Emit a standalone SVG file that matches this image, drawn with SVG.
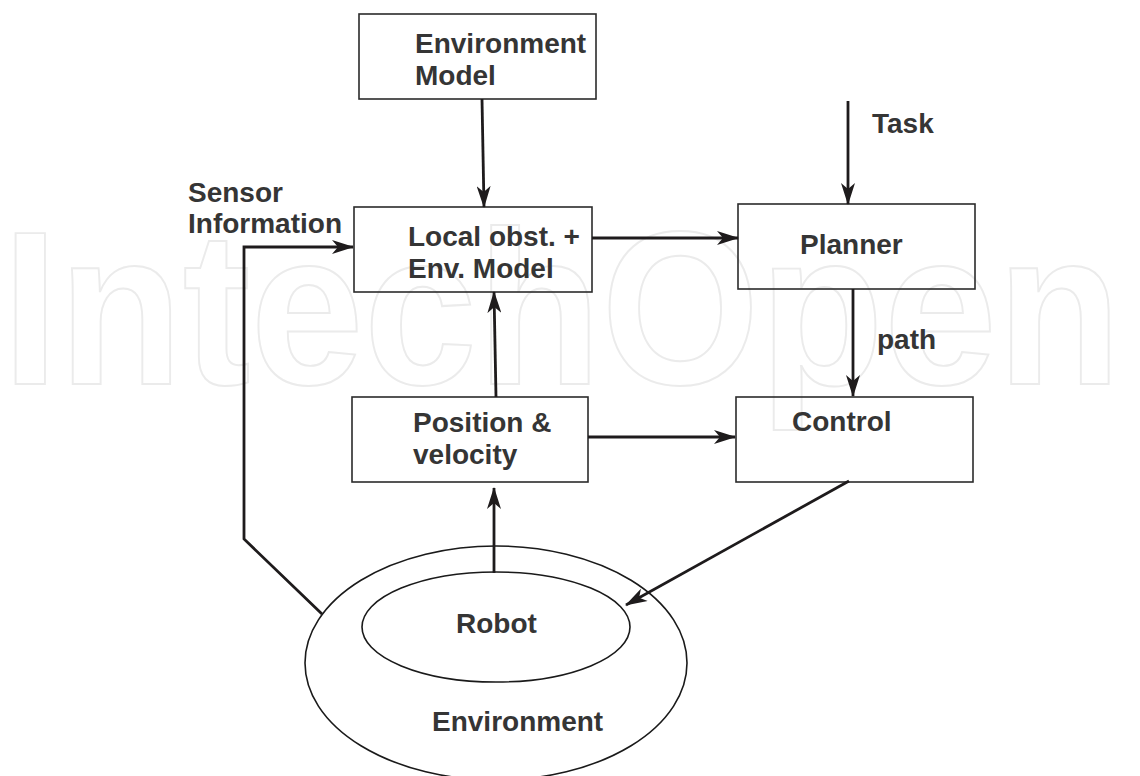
<svg xmlns="http://www.w3.org/2000/svg" width="1140" height="776" viewBox="0 0 1140 776">
<style>
.box{fill:none;stroke:#2b2b2b;stroke-width:1.6}
.ell{fill:none;stroke:#1a1a1a;stroke-width:1.6}
.lbl{font-family:"Liberation Sans",Arial,sans-serif;font-weight:bold;font-size:28px;fill:#353535}
.con{fill:none;stroke:#1e1b1c;stroke-width:2.8}
.wm{font-family:"Liberation Sans",Arial,sans-serif;font-weight:bold;font-size:220px;fill:none;stroke:#ebebeb;stroke-width:2}
</style>
<defs>
<marker id="ah" markerUnits="userSpaceOnUse" markerWidth="22" markerHeight="14" refX="21" refY="7" orient="auto" viewBox="0 0 22 14">
<path d="M0,0 L22,7 L0,14 L6,7 z" fill="#1e1b1c"/>
</marker>
</defs>
<rect width="1140" height="776" fill="#ffffff"/>
<g id="watermark" transform="translate(2,384) scale(0.925,1)">
<text class="wm" x="0" y="0">IntechOpen</text>
</g>

<g id="env-model">
<rect class="box" x="359" y="14" width="237" height="85"/>
<text class="lbl" x="415" y="53">Environment</text>
<text class="lbl" x="415" y="85">Model</text>
</g>
<g id="local-obst">
<rect class="box" x="354" y="207" width="238" height="85"/>
<text class="lbl" x="408" y="246">Local obst. +</text>
<text class="lbl" x="408" y="278">Env. Model</text>
</g>
<g id="planner">
<rect class="box" x="738" y="204" width="237" height="85"/>
<text class="lbl" x="800" y="254">Planner</text>
</g>
<g id="position">
<rect class="box" x="352" y="397" width="236" height="85"/>
<text class="lbl" x="413" y="432">Position &amp;</text>
<text class="lbl" x="413" y="464">velocity</text>
</g>
<g id="control">
<rect class="box" x="736" y="397" width="237" height="85"/>
<text class="lbl" x="792" y="431">Control</text>
</g>
<g id="environment">
<ellipse class="ell" cx="496" cy="663" rx="191" ry="117"/>
<text class="lbl" x="432" y="731">Environment</text>
</g>
<g id="robot">
<ellipse class="ell" cx="496" cy="627" rx="134" ry="55"/>
<text class="lbl" x="456" y="633">Robot</text>
</g>
<g id="labels">
<text class="lbl" x="188" y="202">Sensor</text>
<text class="lbl" x="188" y="233">Information</text>
<text class="lbl" x="872" y="133">Task</text>
<text class="lbl" x="877" y="349">path</text>
</g>
<g id="connectors">
<line class="con" x1="482" y1="99" x2="484" y2="207" marker-end="url(#ah)"/>
<line class="con" x1="848" y1="101" x2="848" y2="204" marker-end="url(#ah)"/>
<line class="con" x1="592" y1="238" x2="738" y2="238" marker-end="url(#ah)"/>
<line class="con" x1="853" y1="289" x2="853" y2="396" marker-end="url(#ah)"/>
<line class="con" x1="588" y1="437" x2="735" y2="437" marker-end="url(#ah)"/>
<line class="con" x1="496" y1="397" x2="494" y2="292" marker-end="url(#ah)"/>
<line class="con" x1="494" y1="573" x2="494" y2="488" marker-end="url(#ah)"/>
<line class="con" x1="849" y1="481" x2="626" y2="605" marker-end="url(#ah)"/>
<polyline class="con" points="322,614 244,539 244,247 353,247" marker-end="url(#ah)"/>
</g>
</svg>
